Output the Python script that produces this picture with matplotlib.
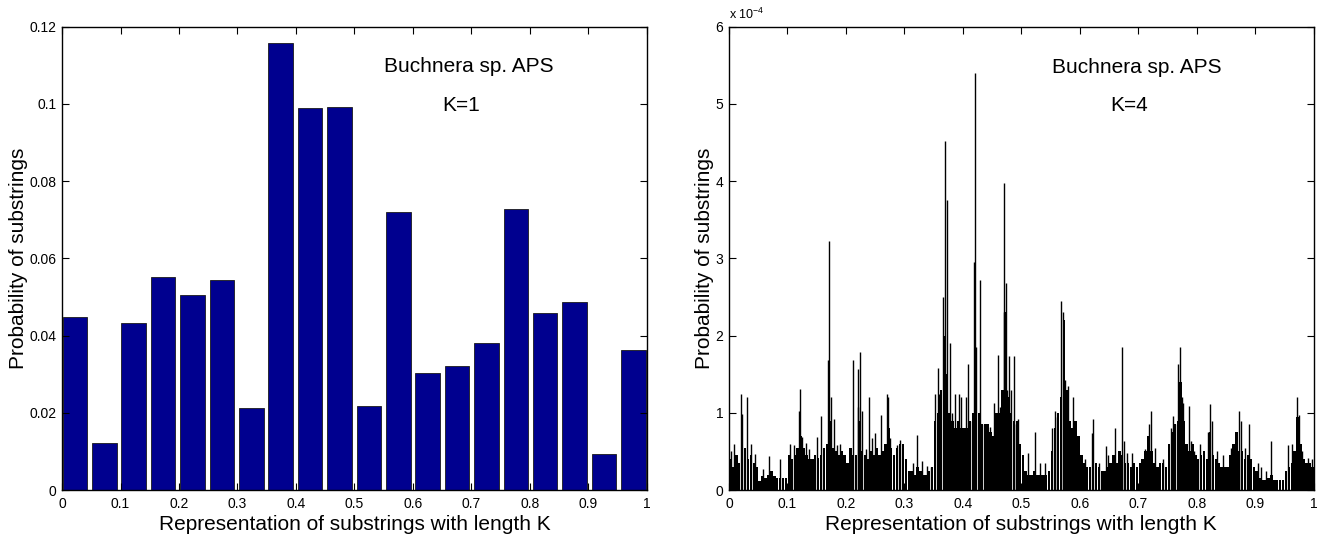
import numpy as np
import matplotlib
matplotlib.use("Agg")
import matplotlib.pyplot as plt
from matplotlib.ticker import FixedLocator

plt.rcParams['font.family'] = ['Liberation Sans', 'DejaVu Sans']
plt.rcParams['mathtext.fontset'] = 'custom'
plt.rcParams['mathtext.rm'] = 'Liberation Sans'
plt.rcParams['mathtext.it'] = 'Liberation Sans'

# ---------------- data: K = 1 ----------------
k1_probs = [0.0447, 0.0123, 0.0432, 0.0553, 0.0506, 0.0544, 0.0213, 0.1159, 0.0990, 0.0991,
            0.0217, 0.0720, 0.0303, 0.0322, 0.0381, 0.0729, 0.0459, 0.0486, 0.0093, 0.0364]

# ---------------- data: K = 4 (values in units of 1e-4) ----------------
# dense background level, one value per 0.005 bin of the representation axis
k4_base = [
    0.40, 0.30, 0.45, 0.35, 0.75, 0.55, 0.40, 0.45, 0.35, 0.30,
    0.12, 0.18, 0.15, 0.20, 0.25, 0.18, 0.15, 0.15, 0.15, 0.15,
    0.45, 0.40, 0.45, 0.55, 0.70, 0.55, 0.45, 0.40, 0.40, 0.45,
    0.42, 0.45, 0.55, 0.60, 0.90, 0.55, 0.50, 0.45, 0.50, 0.45,
    0.35, 0.55, 0.45, 0.45, 0.90, 0.50, 0.45, 0.40, 0.50, 0.45,
    0.55, 0.45, 0.50, 0.60, 0.80, 0.55, 0.45, 0.55, 0.60, 0.60,
    0.40, 0.25, 0.25, 0.20, 0.30, 0.25, 0.20, 0.20, 0.25, 0.30,
    0.90, 1.00, 1.30, 2.00, 1.50, 1.00, 0.90, 0.80, 0.90, 0.80,
    0.80, 0.80, 0.90, 1.00, 1.80, 1.00, 0.85, 0.85, 0.85, 0.75,
    0.70, 1.00, 1.00, 1.30, 2.30, 1.20, 1.00, 0.90, 0.90, 0.60,
    0.45, 0.25, 0.20, 0.20, 0.25, 0.20, 0.20, 0.20, 0.20, 0.25,
    0.50, 0.80, 1.00, 1.20, 2.20, 1.30, 0.90, 0.80, 0.90, 0.70,
    0.45, 0.35, 0.30, 0.30, 0.60, 0.35, 0.30, 0.25, 0.25, 0.30,
    0.35, 0.45, 0.35, 0.50, 0.45, 0.35, 0.35, 0.30, 0.35, 0.30,
    0.35, 0.40, 0.50, 0.70, 0.50, 0.35, 0.30, 0.35, 0.35, 0.30,
    0.60, 0.75, 0.85, 0.90, 1.40, 0.90, 0.60, 0.50, 0.60, 0.45,
    0.40, 0.45, 0.50, 0.40, 0.75, 0.45, 0.40, 0.35, 0.30, 0.30,
    0.30, 0.45, 0.60, 0.75, 0.50, 0.50, 0.40, 0.45, 0.40, 0.30,
    0.25, 0.15, 0.13, 0.13, 0.15, 0.20, 0.13, 0.13, 0.13, 0.13,
    0.25, 0.30, 0.35, 0.50, 0.95, 0.60, 0.40, 0.35, 0.35, 0.30,
]
# individual thin spikes: representation value and height (1e-4)
k4_spike_x = [
    0.004, 0.008, 0.021, 0.023, 0.031, 0.037, 0.045,
    0.058, 0.068, 0.088,
    0.105, 0.111, 0.119, 0.1216, 0.125, 0.131, 0.137, 0.151, 0.1575,
    0.170, 0.1718, 0.174, 0.179, 0.185, 0.190, 0.195,
    0.2118, 0.2205, 0.2212, 0.2249, 0.2283, 0.2346, 0.2392, 0.244, 0.2489,
    0.2597, 0.270, 0.2728, 0.2757, 0.2871, 0.292,
    0.315, 0.322, 0.330, 0.339, 0.345,
    0.3516, 0.357, 0.360, 0.366, 0.370, 0.373, 0.378, 0.381, 0.386, 0.393, 0.397,
    0.405, 0.409, 0.413, 0.4195, 0.421, 0.423, 0.4285, 0.432, 0.440, 0.446,
    0.453, 0.460, 0.464, 0.4695, 0.471, 0.4735, 0.476, 0.479, 0.482, 0.4875, 0.490, 0.495,
    0.511, 0.524, 0.532, 0.540,
    0.553, 0.558, 0.561, 0.5685, 0.571, 0.575, 0.580, 0.585, 0.589, 0.595,
    0.608, 0.620, 0.6225, 0.632, 0.644, 0.648,
    0.660, 0.672, 0.676, 0.680, 0.690,
    0.711, 0.718, 0.7215, 0.728, 0.742,
    0.7555, 0.7585, 0.762, 0.7685, 0.771, 0.774, 0.777, 0.787, 0.790, 0.795,
    0.806, 0.820, 0.8225, 0.826, 0.835, 0.845,
    0.858, 0.873, 0.876, 0.883, 0.8895,
    0.905, 0.910, 0.918, 0.9265,
    0.9555, 0.963, 0.972, 0.974, 0.980, 0.990, 0.997,
]
k4_spike_h = [
    0.50, 0.60, 1.25, 0.98, 1.20, 0.60, 0.47,
    0.27, 0.44, 0.40,
    0.60, 0.58, 1.03, 1.31, 0.69, 0.61, 0.53, 0.69, 0.96,
    1.69, 3.22, 1.20, 0.92, 0.58, 0.60, 0.42,
    1.68, 1.08, 1.57, 1.79, 1.03, 0.53, 1.20, 0.68, 0.74,
    0.97, 1.24, 1.20, 0.68, 0.59, 0.65,
    0.35, 0.71, 0.38, 0.31, 0.30,
    1.25, 1.58, 1.24, 2.50, 4.52, 3.76, 1.91, 1.00, 1.25, 1.24, 1.20,
    1.20, 1.63, 0.90, 2.95, 5.40, 1.85, 2.72, 0.85, 0.85, 0.82,
    1.13, 1.75, 1.07, 2.30, 3.98, 2.68, 1.30, 1.74, 1.29, 1.74, 0.85, 0.92,
    0.48, 0.75, 0.35, 0.35,
    0.80, 1.03, 0.95, 2.45, 2.30, 1.42, 1.35, 0.81, 1.20, 0.68,
    0.40, 0.74, 0.92, 0.35, 0.57, 0.45,
    0.81, 1.85, 0.64, 0.48, 0.48,
    0.53, 0.85, 1.03, 0.55, 0.40,
    0.81, 0.96, 0.85, 1.63, 1.85, 1.20, 1.13, 1.09, 0.64, 0.50,
    0.60, 0.75, 1.11, 0.90, 0.50, 0.45,
    0.55, 1.03, 0.90, 0.55, 0.85,
    0.35, 0.30, 0.25, 0.63,
    0.59, 0.60, 1.20, 0.97, 0.50, 0.42, 0.40,
]

x_ticks = [0, 0.1, 0.2, 0.3, 0.4, 0.5, 0.6, 0.7, 0.8, 0.9, 1]
x_ticklabels = ['0', '0.1', '0.2', '0.3', '0.4', '0.5', '0.6', '0.7', '0.8', '0.9', '1']
k1_yticks = [0, 0.02, 0.04, 0.06, 0.08, 0.1, 0.12]
k1_yticklabels = ['0', '0.02', '0.04', '0.06', '0.08', '0.1', '0.12']
k4_yticks = [0, 1, 2, 3, 4, 5, 6]
k4_yticklabels = ['0', '1', '2', '3', '4', '5', '6']

xlabel = 'Representation of substrings with length K'
ylabel = 'Probability of substrings'
organism = 'Buchnera sp. APS'

# ---------------- figure ----------------
fig = plt.figure(figsize=(13.23, 5.35), dpi=100)
ax1 = fig.add_axes([0.0469, 0.084, 0.442, 0.866])
ax2 = fig.add_axes([0.551, 0.084, 0.442, 0.866])

tick_fs = 10
label_fs = 15


def style(ax):
    for s in ax.spines.values():
        s.set_linewidth(1.0)
        s.set_color('black')
    ax.tick_params(direction='in', top=True, right=True, length=5, width=0.8,
                   labelsize=tick_fs)
    ax.tick_params(axis='x', pad=5)
    ax.tick_params(axis='y', pad=4)
    ax.set_xlim(0, 1)
    ax.xaxis.set_major_locator(FixedLocator(x_ticks))
    ax.set_xticklabels(x_ticklabels)
    ax.set_xlabel(xlabel, fontsize=label_fs, labelpad=3)
    ax.set_ylabel(ylabel, fontsize=label_fs, labelpad=1)


# Left: K=1
n1 = len(k1_probs)
pos1 = np.linspace(0.022, 0.977, n1)
ax1.bar(pos1, k1_probs, width=0.042, color='#00008F', edgecolor='#1a1a1a', linewidth=0.6)
style(ax1)
ax1.set_ylim(0, 0.12)
ax1.yaxis.set_major_locator(FixedLocator(k1_yticks))
ax1.set_yticklabels(k1_yticklabels)
ax1.text(0.696, 0.914, organism, transform=ax1.transAxes, ha='center', va='center', fontsize=label_fs)
ax1.text(0.682, 0.831, 'K=1', transform=ax1.transAxes, ha='center', va='center', fontsize=label_fs)

# Right: K=4
nb = len(k4_base)
pos4 = (np.arange(nb) + 0.5) / nb
ax2.bar(pos4, k4_base, width=0.85 / nb, color='black', linewidth=0)
ax2.vlines(k4_spike_x, 0, k4_spike_h, colors='black', linewidth=1.0)
style(ax2)
ax2.set_ylim(0, 6)
ax2.yaxis.set_major_locator(FixedLocator(k4_yticks))
ax2.set_yticklabels(k4_yticklabels)
ax2.text(0.0, 1.01, r'x 10$^{-4}$', transform=ax2.transAxes, ha='left', va='bottom', fontsize=9)
ax2.text(0.698, 0.912, organism, transform=ax2.transAxes, ha='center', va='center', fontsize=label_fs)
ax2.text(0.684, 0.831, 'K=4', transform=ax2.transAxes, ha='center', va='center', fontsize=label_fs)

fig.savefig('out.png', dpi=100)
